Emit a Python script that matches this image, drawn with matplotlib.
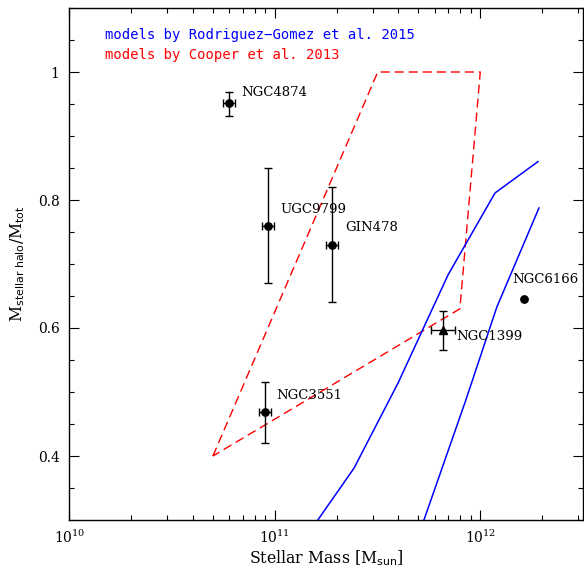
import numpy as np
import matplotlib
matplotlib.use("Agg")
import matplotlib.pyplot as plt
from matplotlib.ticker import MultipleLocator, FuncFormatter, LogLocator, LogFormatterMathtext

plt.rcParams['font.family'] = ['DejaVu Serif']
plt.rcParams['mathtext.fontset'] = 'dejavuserif'

# ---- data ----
names = ["NGC4874", "UGC9799", "GIN478", "NGC3551", "NGC1399", "NGC6166"]
mass = [6.0e10, 9.25e10, 1.9e11, 8.95e10, 6.6e11, 1.63e12]
frac = [0.951, 0.759, 0.730, 0.468, 0.597, 0.645]
frac_hi = [0.968, 0.850, 0.820, 0.516, 0.626, 0.645]
frac_lo = [0.932, 0.670, 0.640, 0.421, 0.566, 0.645]
mass_err_dex = [0.028, 0.030, 0.030, 0.029, 0.058, 0.0]
markers = ["o", "o", "o", "o", "^", "o"]
has_err = [True, True, True, True, True, False]

# Rodriguez-Gomez et al. 2015 model curves
rg1_mass = [1.62e11, 2.43e11, 3.98e11, 6.97e11, 1.18e12, 1.91e12]
rg1_frac = [0.300, 0.381, 0.514, 0.683, 0.811, 0.860]
rg2_mass = [5.32e11, 8.51e11, 1.205e12, 1.93e12]
rg2_frac = [0.300, 0.4875, 0.633, 0.7875]

# Cooper et al. 2013 model region
cooper_mass = [5.0e10, 3.17e11, 1.0e12, 7.96e11, 5.0e10]
cooper_frac = [0.400, 1.000, 1.000, 0.630, 0.400]

legend_texts = ["models by Rodriguez\u2212Gomez et al. 2015", "models by Cooper et al. 2013"]

# ---- style / layout ----
label_offsets_px = [(12, 11), (13, 17), (13, 17), (11, 17), (13, -7), (-12, 20)]

fig = plt.figure(figsize=(5.84, 5.68), dpi=100)
ax = fig.add_axes([69.3/584, 48/568, 513.7/584, 512/568])

ax.plot(cooper_mass, cooper_frac, color='red', lw=1.0, linestyle=(0, (6.5, 3.6)))
ax.plot(rg1_mass, rg1_frac, color='blue', lw=1.1)
ax.plot(rg2_mass, rg2_frac, color='blue', lw=1.1)

for i, n in enumerate(names):
    x = mass[i]; y = frac[i]
    if has_err[i]:
        d = mass_err_dex[i]
        xerr = [[x - x*10**(-d)], [x*10**d - x]]
        yerr = [[y - frac_lo[i]], [frac_hi[i] - y]]
        ax.errorbar([x], [y], xerr=xerr, yerr=yerr, fmt=markers[i], color='black',
                    ms=5.3 if markers[i] == 'o' else 5.8, elinewidth=1.0, capsize=3, capthick=1.0)
    else:
        ax.plot([x], [y], markers[i], color='black', ms=5.3)
    ax.annotate(n, (x, y), xytext=label_offsets_px[i], textcoords='offset pixels',
                ha='left', va='center', fontsize=9.5)

ax.text(0.0695, 0.947, legend_texts[0], color='blue', transform=ax.transAxes,
        fontsize=10, family='DejaVu Sans Mono', va='center', ha='left')
ax.text(0.0695, 0.908, legend_texts[1], color='red', transform=ax.transAxes,
        fontsize=10, family='DejaVu Sans Mono', va='center', ha='left')

ax.set_xscale('log')
ax.set_xlim(1e10, 10**12.5)
ax.set_ylim(0.3, 1.1)
ax.xaxis.set_major_locator(LogLocator(base=10, numticks=10))
ax.xaxis.set_minor_locator(LogLocator(base=10, subs=np.arange(2, 10), numticks=20))
ax.xaxis.set_major_formatter(LogFormatterMathtext())
ax.yaxis.set_major_locator(MultipleLocator(0.2))
ax.yaxis.set_minor_locator(MultipleLocator(0.05))
ax.yaxis.set_major_formatter(FuncFormatter(lambda v, p: '%g' % round(v, 3)))

ax.tick_params(which='both', direction='in', top=True, right=True, labelsize=10, width=0.8)
ax.tick_params(which='major', length=7.2)
ax.tick_params(which='minor', length=3.6)
ax.tick_params(axis='x', which='major', pad=6)
ax.tick_params(axis='y', which='major', pad=7)
for s in ax.spines.values():
    s.set_linewidth(1.0)

ax.set_xlabel(r'Stellar Mass [M$_{\mathsf{sun}}$]', fontsize=11.3, labelpad=2)
ax.set_ylabel(r'M$_{\mathsf{stellar\ halo}}$/M$_{\mathsf{tot}}$', fontsize=11.3, labelpad=8)

fig.savefig('out.png', dpi=100)
